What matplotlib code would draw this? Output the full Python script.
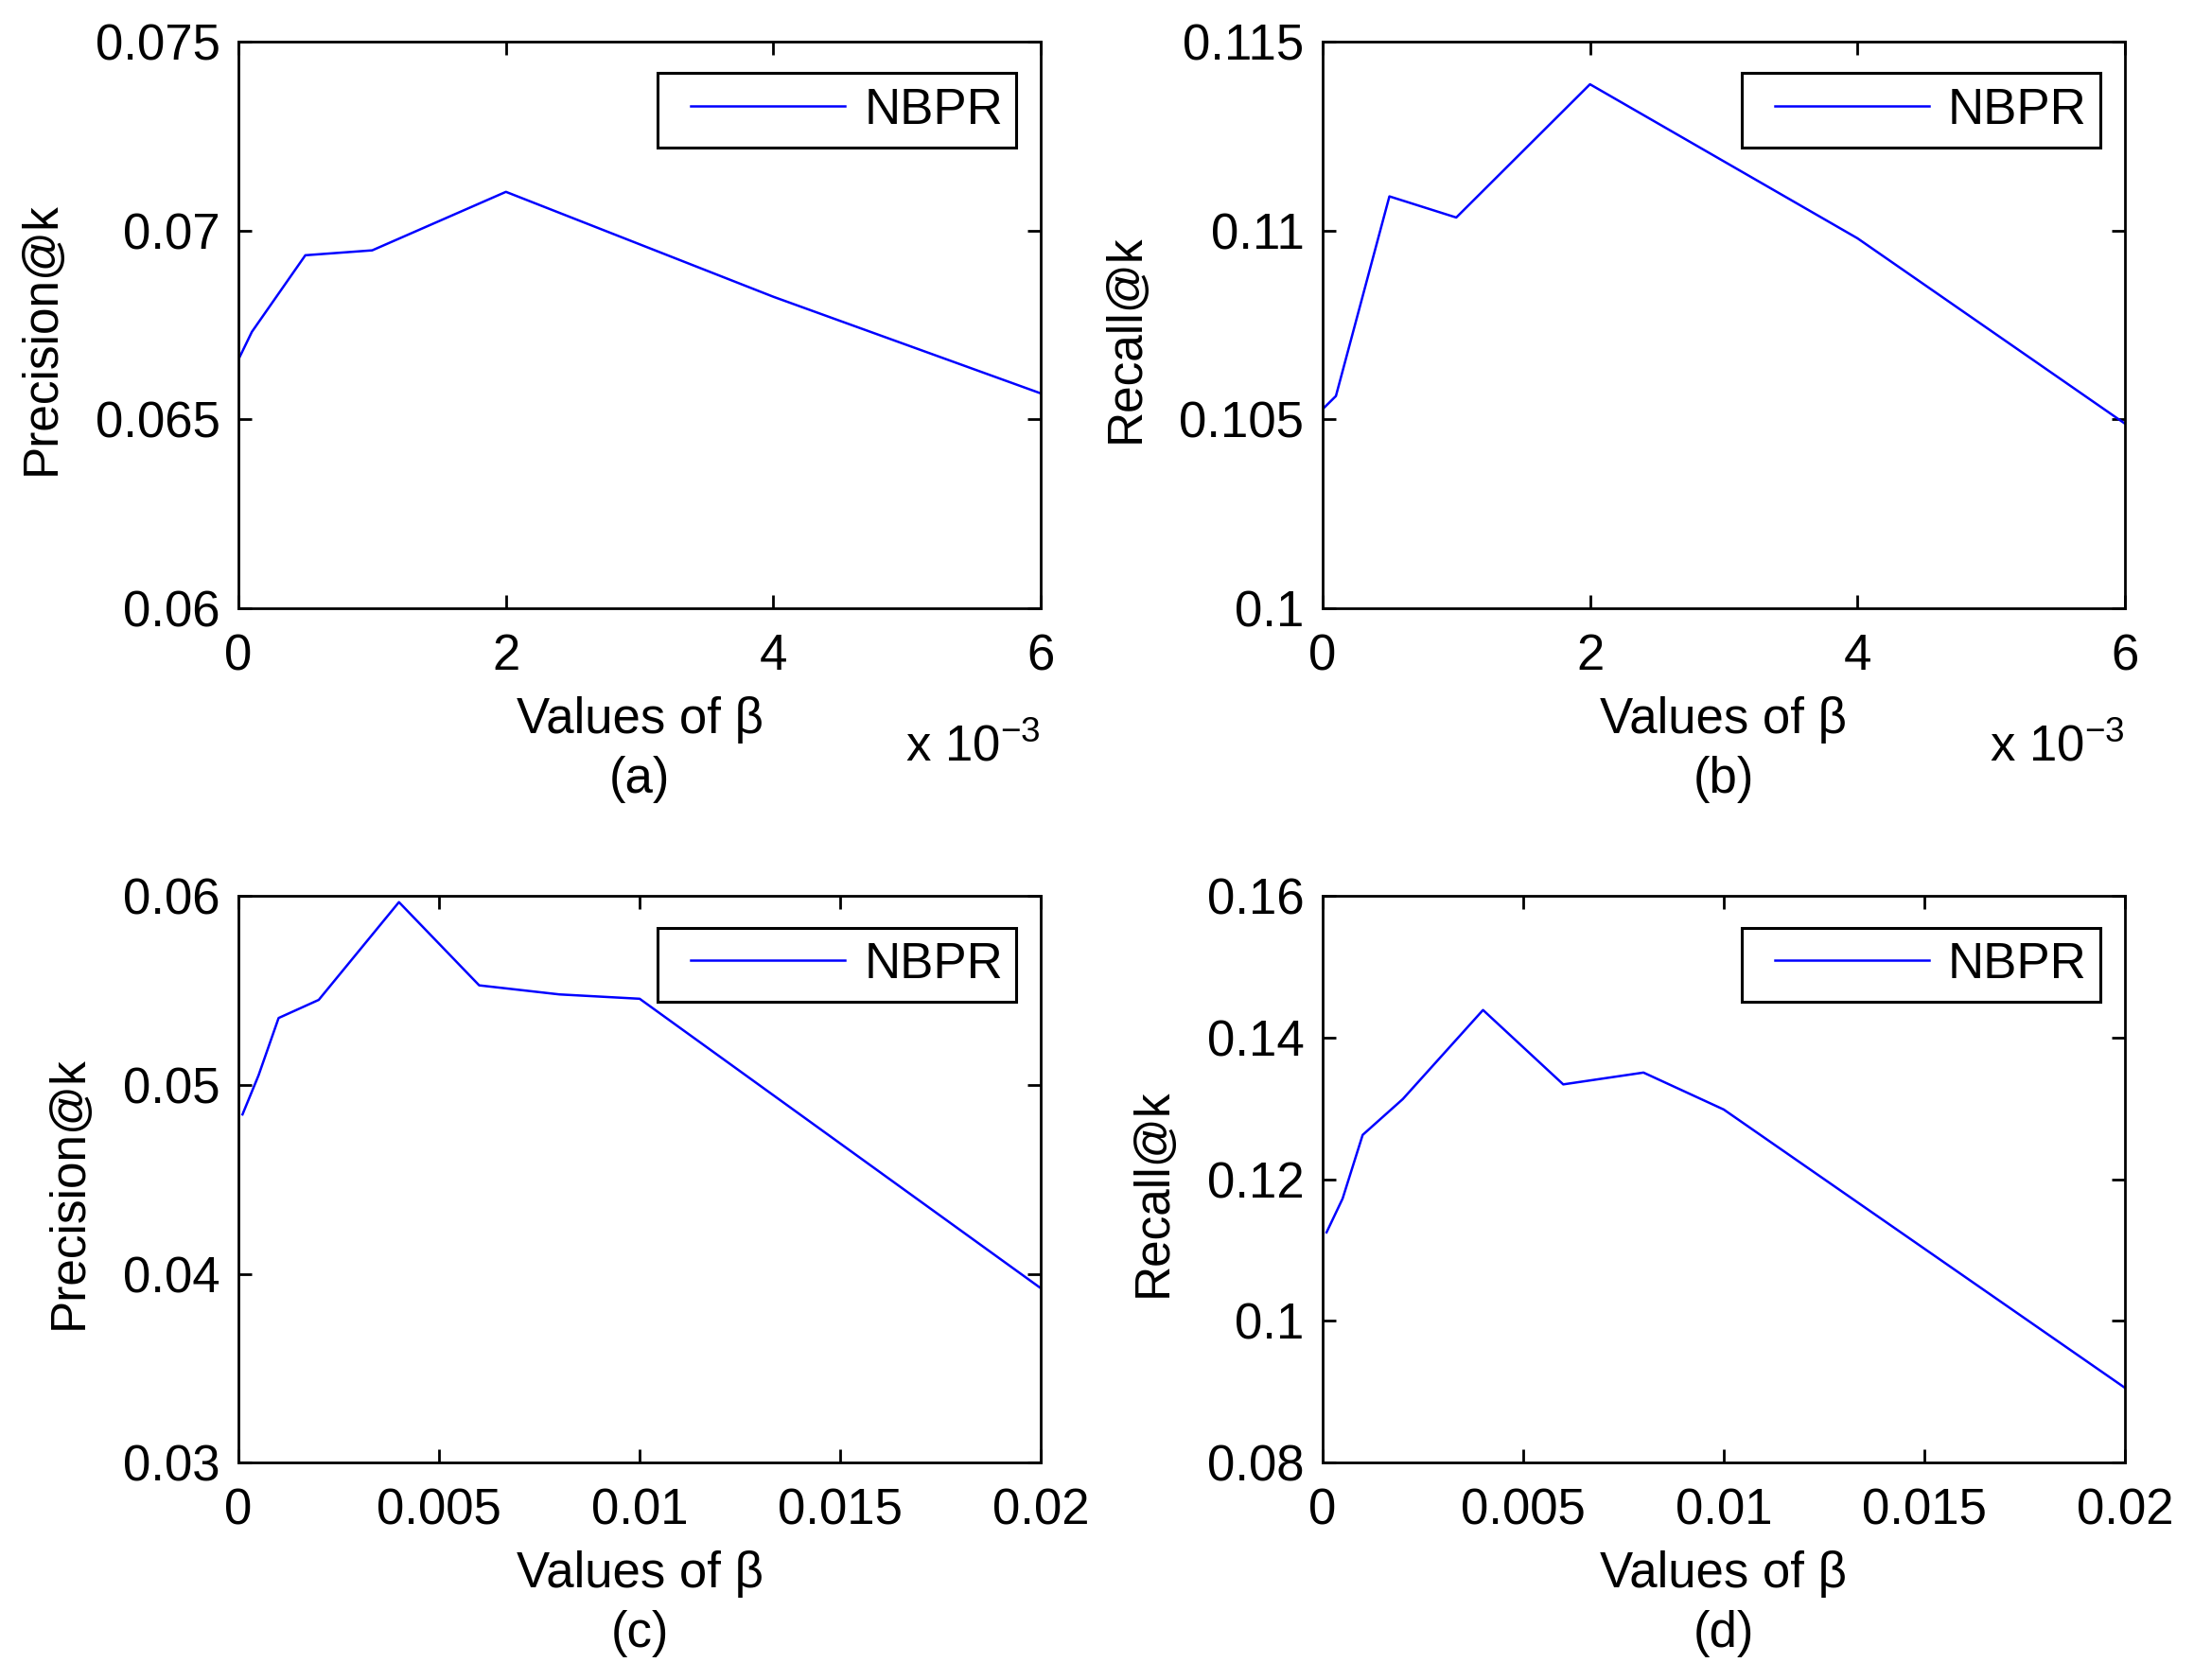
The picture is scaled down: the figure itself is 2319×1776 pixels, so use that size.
import matplotlib
matplotlib.use('Agg')
import matplotlib.pyplot as plt
from matplotlib.legend_handler import HandlerLine2D

plt.rcParams['font.family'] = ['Liberation Sans', 'DejaVu Sans']
plt.rcParams['mathtext.fontset'] = 'custom'
plt.rcParams['mathtext.rm'] = 'Liberation Sans'
plt.rcParams['mathtext.it'] = 'Liberation Sans:italic'

# beta values (top row shown in units of 1e-3)
beta_top = [0, 0.0001, 0.0005, 0.001, 0.002, 0.004, 0.006]
beta_bot = [0.0001, 0.0005, 0.001, 0.002, 0.004, 0.006, 0.008, 0.01, 0.02]

prec_a = [0.06659, 0.06732, 0.06935, 0.06948, 0.07103, 0.06825, 0.06569]
rec_b = [0.10527, 0.10562, 0.11091, 0.11035, 0.11388, 0.10980, 0.10489]
prec_c = [0.04844, 0.05051, 0.05355, 0.05451, 0.05969, 0.05528, 0.05480, 0.05457, 0.03923]
rec_d = [0.11251, 0.11728, 0.12628, 0.13134, 0.14393, 0.13342, 0.13509, 0.12987, 0.09055]

xt_top = [0, 2, 4, 6]
xt_bot = [0, 0.005, 0.01, 0.015, 0.02]
xt_bot_lbl = ['0', '0.005', '0.01', '0.015', '0.02']

yt_a = [0.06, 0.065, 0.07, 0.075]
yt_a_lbl = ['0.06', '0.065', '0.07', '0.075']
yt_b = [0.1, 0.105, 0.11, 0.115]
yt_b_lbl = ['0.1', '0.105', '0.11', '0.115']
yt_c = [0.03, 0.04, 0.05, 0.06]
yt_c_lbl = ['0.03', '0.04', '0.05', '0.06']
yt_d = [0.08, 0.1, 0.12, 0.14, 0.16]
yt_d_lbl = ['0.08', '0.1', '0.12', '0.14', '0.16']

FS = 38

fig = plt.figure(figsize=(23.19, 17.76), dpi=100)
L1, L2, W = 0.1087, 0.6028, 0.3657
B1, B2, H = 0.6380, 0.1295, 0.3370
ax_a = fig.add_axes([L1, B1, W, H])
ax_b = fig.add_axes([L2, B1, W, H])
ax_c = fig.add_axes([L1, B2, W, H])
ax_d = fig.add_axes([L2, B2, W, H])


def style(ax, x, y, ylabel, xt, xtl, yt, ytl, tag, top):
    line, = ax.plot(x, y, color='#0000ff', lw=1.8, label='NBPR')
    ax.set_xlim(xt[0], xt[-1])
    ax.set_ylim(yt[0], yt[-1])
    ax.set_xticks(xt)
    ax.set_xticklabels(xtl)
    ax.set_yticks(yt)
    ax.set_yticklabels(ytl)
    ax.tick_params(direction='in', length=10, width=2, labelsize=FS,
                   top=True, right=True)
    ax.tick_params(axis='x', pad=19)
    ax.tick_params(axis='y', pad=14)
    for s in ax.spines.values():
        s.set_linewidth(2)
    ax.set_xlabel('Values of β', fontsize=FS, labelpad=12)
    ax.set_ylabel(ylabel, fontsize=37, labelpad=23)
    ax.yaxis.label.set_y(0.477)
    ax.text(0.5, -0.303, tag, transform=ax.transAxes, fontsize=FS,
            ha='center', va='center')
    if top:
        ax.text(1.0, -0.246, 'x 10$^{-3}$', transform=ax.transAxes,
                fontsize=FS, ha='right', va='center')
    leg = ax.legend(loc='upper right', bbox_to_anchor=(1.0, 0.988),
                    fontsize=FS, fancybox=False,
                    framealpha=1, edgecolor='black', handlelength=3.49,
                    handletextpad=0.38, borderaxespad=0.49, borderpad=0.27,
                    handler_map={line: HandlerLine2D(xpad=0.4)})
    leg.get_frame().set_linewidth(2.2)


style(ax_a, [b * 1e3 for b in beta_top], prec_a, 'Precision@k',
      xt_top, [str(v) for v in xt_top], yt_a, yt_a_lbl, '(a)', True)
style(ax_b, [b * 1e3 for b in beta_top], rec_b, 'Recall@k',
      xt_top, [str(v) for v in xt_top], yt_b, yt_b_lbl, '(b)', True)
style(ax_c, beta_bot, prec_c, 'Precision@k',
      xt_bot, xt_bot_lbl, yt_c, yt_c_lbl, '(c)', False)
style(ax_d, beta_bot, rec_d, 'Recall@k',
      xt_bot, xt_bot_lbl, yt_d, yt_d_lbl, '(d)', False)

fig.savefig('out.png', dpi=100)
